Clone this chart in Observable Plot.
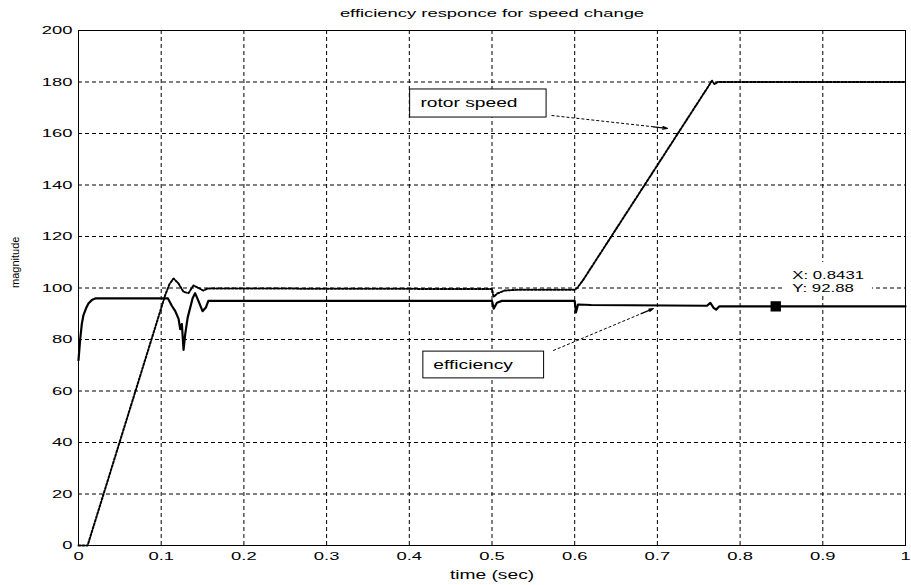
<!DOCTYPE html>
<html><head><meta charset="utf-8">
<script src="https://cdn.jsdelivr.net/npm/d3@7"></script>
<script src="https://cdn.jsdelivr.net/npm/@observablehq/plot@0.6"></script>
<style>html,body{margin:0;padding:0;background:#fff}</style>
</head><body><div id="chart"></div>
<script>
// ---- tick labels ----
const xTicks = [0, 0.1, 0.2, 0.3, 0.4, 0.5, 0.6, 0.7, 0.8, 0.9, 1];
const yTicks = [0, 20, 40, 60, 80, 100, 120, 140, 160, 180, 200];

// ---- efficiency (solid line) ----
const effTime  = [0, 0.002, 0.004, 0.006, 0.009, 0.012, 0.016, 0.021, 0.103, 0.108, 0.113, 0.117, 0.121, 0.123, 0.125, 0.127, 0.129, 0.132, 0.138, 0.141, 0.145, 0.150, 0.154, 0.157, 0.500, 0.502, 0.506, 0.512, 0.600, 0.6015, 0.604, 0.620, 0.760, 0.764, 0.768, 0.771, 0.775, 1.0];
const effValue = [72, 80, 86, 89.5, 92, 94, 95.3, 96, 96, 96, 93, 91, 88, 84, 86, 76, 82, 88.5, 96, 98, 95, 91, 92.4, 95, 95, 92, 94.3, 95, 95, 90.5, 93.6, 93.4, 93.1, 94.2, 92.3, 91.6, 92.9, 92.88];

// ---- rotor speed (dotted line) ----
const speedTime  = [0, 0.011, 0.105, 0.110, 0.115, 0.121, 0.127, 0.133, 0.139, 0.144, 0.151, 0.156, 0.200, 0.500, 0.502, 0.506, 0.515, 0.530, 0.600, 0.603, 0.610, 0.766, 0.769, 0.773, 1.0];
const speedValue = [0, 0, 97.4, 101.5, 103.7, 101.7, 98.5, 98, 101, 100.2, 99, 99.8, 99.8, 99.6, 96.5, 97.8, 99, 99.3, 99.3, 100, 103, 180.5, 179.2, 180, 180];

// ---- annotations ----
const calloutLabels = ["rotor speed", "efficiency"];
const calloutBoxX1 = [0.401, 0.417];
const calloutBoxX2 = [0.566, 0.563];
const calloutBoxY1 = [166.2, 64.9];
const calloutBoxY2 = [177.1, 75.3];
const calloutTextX = [0.4135, 0.429];
const calloutTextY = [171.6, 70.1];
const arrowFromX = [0.572, 0.574];
const arrowFromY = [167, 75.7];
const arrowToX = [0.712, 0.695];
const arrowToY = [162, 92];

const tipX = 0.8431, tipY = 92.88;
const tipLines = ["X: 0.8431", "Y: 92.88"];
const tipTextX = 0.863;
const tipTextY = [104.9, 99.8];
const tipBox = {x1: 0.8525, x2: 0.960, y1: 97.5, y2: 109.9};

const title = "efficiency responce for speed change";
const xLabel = "time (sec)";
const yLabel = "magnitude";

// ---- build tables ----
const eff = effTime.map((t, i) => ({t, v: effValue[i]}));
const speed = speedTime.map((t, i) => ({t, v: speedValue[i]}));
const callouts = calloutLabels.map((label, i) => ({
  label,
  bx1: calloutBoxX1[i], bx2: calloutBoxX2[i], by1: calloutBoxY1[i], by2: calloutBoxY2[i],
  tx: calloutTextX[i], ty: calloutTextY[i],
  fx: arrowFromX[i], fy: arrowFromY[i], ex: arrowToX[i], ey: arrowToY[i],
  hx: arrowFromX[i] + 0.88 * (arrowToX[i] - arrowFromX[i]),
  hy: arrowFromY[i] + 0.88 * (arrowToY[i] - arrowFromY[i])
}));
const tips = tipLines.map((s, i) => ({s, x: tipTextX, y: tipTextY[i]}));

const FONT = "'Liberation Sans', Arial, Helvetica, sans-serif";

const plot = Plot.plot({
  width: 911,
  height: 585,
  marginLeft: 78,
  marginRight: 6,
  marginTop: 30,
  marginBottom: 40,
  style: {fontFamily: FONT, color: "black", background: "white", overflow: "visible"},
  x: {domain: [0, 1], label: null},
  y: {domain: [0, 200], label: null},
  marks: [
    Plot.gridX(xTicks.slice(1, -1), {stroke: "black", strokeOpacity: 1, strokeWidth: 1, strokeDasharray: "4,3"}),
    Plot.gridY(yTicks.slice(1, -1), {stroke: "black", strokeOpacity: 1, strokeWidth: 1, strokeDasharray: "4,3"}),
    Plot.rect([tipBox], {x1: "x1", x2: "x2", y1: "y1", y2: "y2", fill: "white"}),
    Plot.frame({stroke: "black", strokeWidth: 1}),
    Plot.axisX(xTicks, {tickSize: 0, tickPadding: 6, tickFormat: d => String(d), fontSize: 11.5, label: null}),
    Plot.axisY(yTicks, {tickSize: 0, tickPadding: 6, tickFormat: d => String(d), fontSize: 11.5, label: null}),
    Plot.line(speed, {x: "t", y: "v", stroke: "black", strokeWidth: 2, strokeDasharray: "2,1.8", curve: "linear"}),
    Plot.line(eff, {x: "t", y: "v", stroke: "black", strokeWidth: 2.2, curve: "linear"}),
    // callout arrows
    Plot.link(callouts, {x1: "fx", y1: "fy", x2: "hx", y2: "hy", stroke: "black", strokeWidth: 1, strokeDasharray: "3,2"}),
    Plot.arrow(callouts, {x1: "hx", y1: "hy", x2: "ex", y2: "ey", stroke: "black", strokeWidth: 1.3, headLength: 14, headAngle: 32}),
    // callout boxes
    Plot.rect(callouts, {x1: "bx1", x2: "bx2", y1: "by1", y2: "by2", fill: "white", stroke: "black", strokeWidth: 1}),
    Plot.text(callouts, {x: "tx", y: "ty", text: "label", textAnchor: "start", fontSize: 12, fill: "black"}),
    // data tip
    Plot.dot([{x: tipX, y: tipY}], {x: "x", y: "y", symbol: "square", r: 5, fill: "black", stroke: "black"}),
    Plot.text(tips, {x: "x", y: "y", text: "s", textAnchor: "start", fontSize: 10.5, fill: "black"}),
    // titles
    Plot.text([title], {frameAnchor: "top", lineAnchor: "middle", dy: -17, fontSize: 11.5, fill: "black"}),
    Plot.text([xLabel], {frameAnchor: "bottom", lineAnchor: "middle", dy: 30, fontSize: 12, fill: "black"}),
    Plot.text([yLabel], {frameAnchor: "left", lineAnchor: "middle", dx: -63, rotate: -90, fontSize: 11, fill: "black"})
  ]
});

// the reference's lettering is horizontally wide: widen non-rotated labels about their anchor
plot.querySelectorAll("text").forEach(t => {
  const tr = t.getAttribute("transform") || "";
  if (!/rotate/.test(tr)) t.setAttribute("transform", tr + " scale(1.6,1)");
});

document.getElementById("chart").append(plot);
</script>
</body></html>
